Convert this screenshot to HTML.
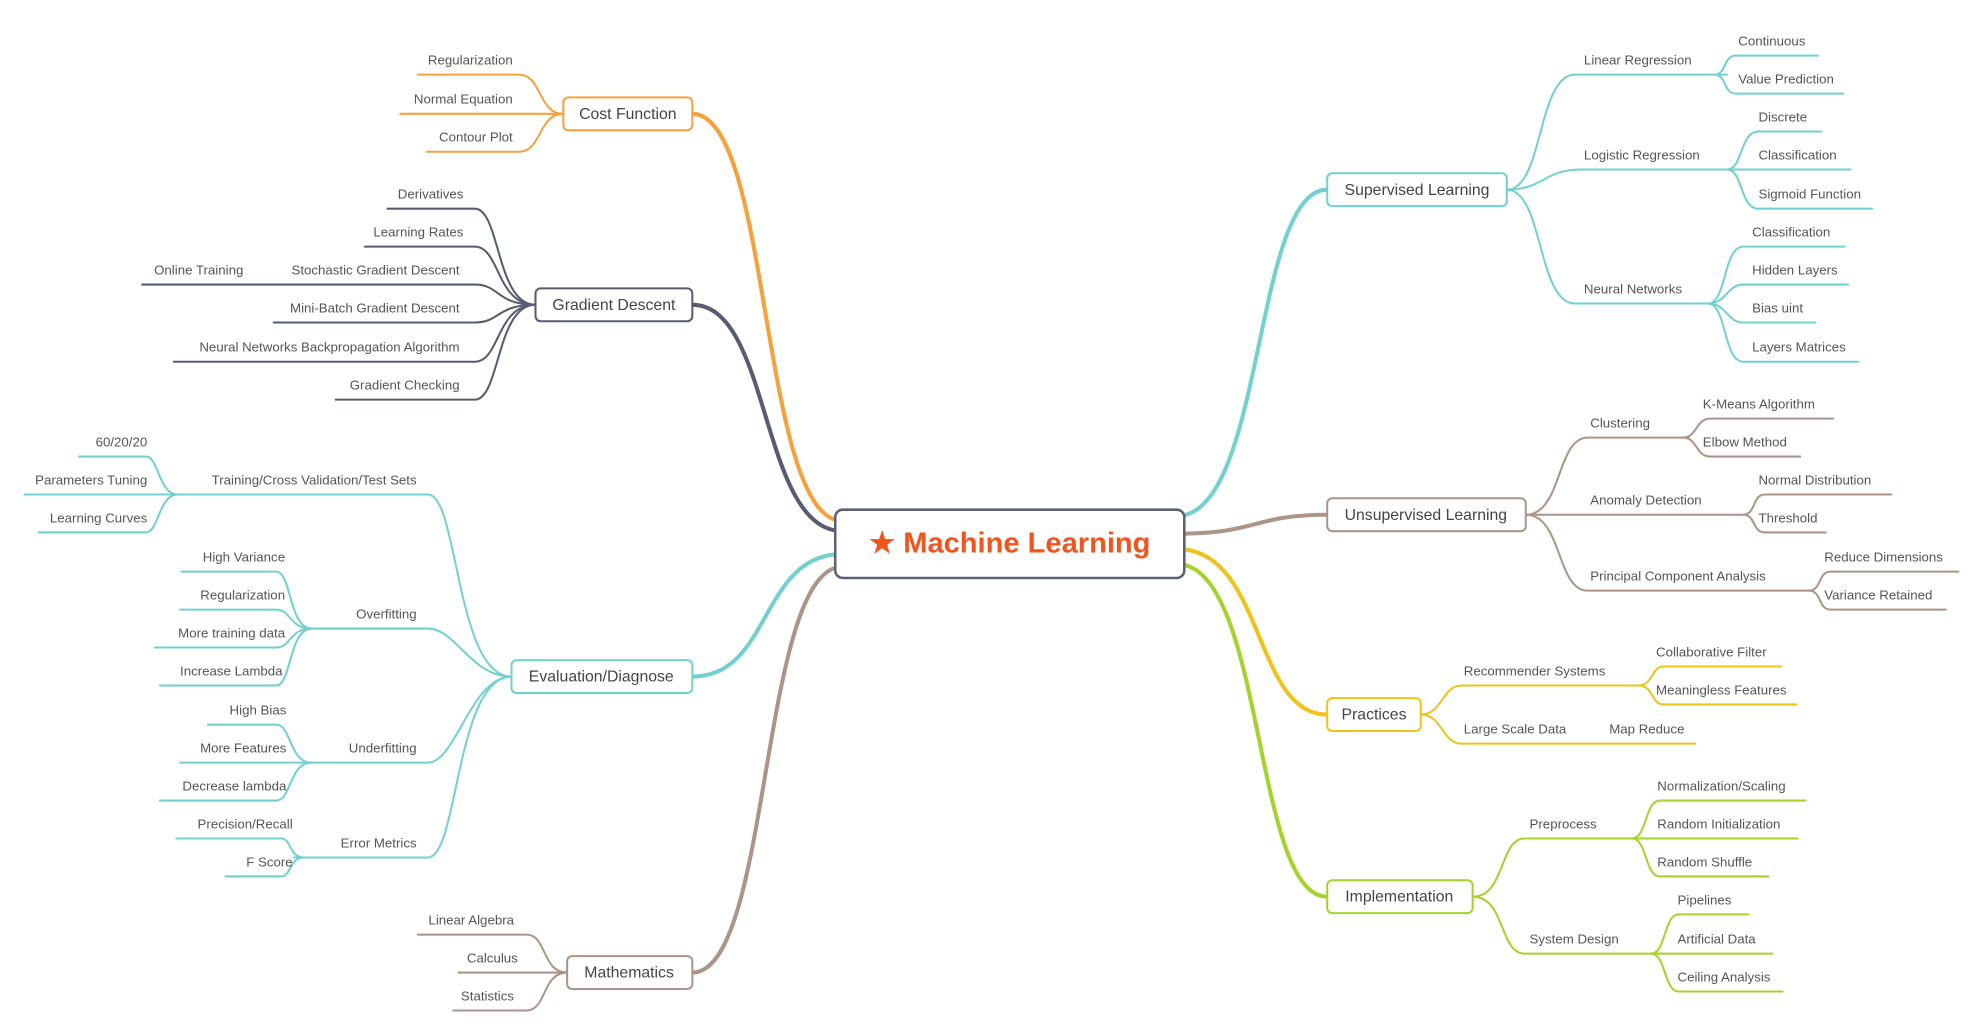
<!DOCTYPE html>
<html><head><meta charset="utf-8"><style>
html,body{margin:0;padding:0;background:#fff;}
svg{display:block;}
text{font-family:"Liberation Sans",sans-serif;fill:#555;font-size:10.5px;}
.n{font-size:12.5px;fill:#444;text-anchor:middle;}
.e{text-anchor:end;}
path{fill:none;stroke-width:1.6;stroke-linecap:round;}
.m{stroke-width:3.2;}
rect{fill:#fff;stroke-width:1.6;}
</style></head><body>
<svg width="1974" height="1032" viewBox="0 0 1560 816" xmlns="http://www.w3.org/2000/svg">
<!-- Supervised -->
<g stroke="#72d1cf">
<path class="m" d="M930,408 C1000,408 990,150 1049,150"/>
<path d="M1191,150 C1220,150 1215,59 1245,59 H1365"/>
<path d="M1191,150 C1220,150 1220,134 1250,134 H1365"/>
<path d="M1191,150 C1220,150 1215,240 1245,240 H1352"/>
<path d="M1355,59 C1365,59 1362,44 1372,44 H1437"/>
<path d="M1355,59 C1365,59 1362,74 1372,74 H1457"/>
<path d="M1365,134 C1378,134 1375,104 1390,104 H1440"/>
<path d="M1365,134 H1463"/>
<path d="M1365,134 C1378,134 1375,165 1390,165 H1480"/>
<path d="M1350,240 C1365,240 1362,195 1378,195 H1458"/>
<path d="M1350,240 C1365,240 1365,225 1378,225 H1461"/>
<path d="M1350,240 C1365,240 1365,255 1378,255 H1435"/>
<path d="M1350,240 C1365,240 1362,286 1378,286 H1469"/>
</g>
<!-- Unsupervised -->
<g stroke="#ad9488">
<path class="m" d="M930,422 C995,422 990,407 1049,407"/>
<path d="M1206,407 C1235,407 1230,346 1255,346 H1335"/>
<path d="M1206,407 H1378"/>
<path d="M1206,407 C1235,407 1230,467 1255,467 H1430"/>
<path d="M1330,346 C1342,346 1340,331 1352,331 H1449"/>
<path d="M1330,346 C1342,346 1340,361 1352,361 H1423"/>
<path d="M1378,407 C1388,407 1385,391 1395,391 H1495"/>
<path d="M1378,407 C1388,407 1385,421 1395,421 H1443"/>
<path d="M1430,467 C1440,467 1437,452 1447,452 H1548"/>
<path d="M1430,467 C1440,467 1437,482 1447,482 H1538"/>
</g>
<!-- Practices -->
<g stroke="#f0c31b">
<path class="m" d="M930,434 C1000,434 990,565 1049,565"/>
<path d="M1123,565 C1140,565 1140,542 1155,542 H1297"/>
<path d="M1123,565 C1140,565 1140,588 1155,588 H1340"/>
<path d="M1295,542 C1307,542 1305,527 1315,527 H1408"/>
<path d="M1295,542 C1307,542 1305,557 1315,557 H1420"/>
</g>
<!-- Implementation -->
<g stroke="#a6d22d">
<path class="m" d="M930,446 C1000,446 990,709 1049,709"/>
<path d="M1164,709 C1190,709 1185,663 1205,663 H1297"/>
<path d="M1164,709 C1190,709 1185,754 1205,754 H1312"/>
<path d="M1290,663 C1302,663 1300,633 1312,633 H1427"/>
<path d="M1290,663 H1421"/>
<path d="M1290,663 C1302,663 1300,693 1312,693 H1398"/>
<path d="M1305,754 C1317,754 1315,723 1327,723 H1382"/>
<path d="M1305,754 H1401"/>
<path d="M1305,754 C1317,754 1315,784 1327,784 H1409"/>
</g>
<!-- Cost -->
<g stroke="#f6a13c">
<path class="m" d="M666,412 C600,412 610,90 547,90"/>
<path d="M445,90 C425,90 428,59 410,59 H330"/>
<path d="M445,90 H316"/>
<path d="M445,90 C425,90 428,120 410,120 H337"/>
</g>
<!-- Gradient -->
<g stroke="#575c72">
<path class="m" d="M666,420 C600,420 610,241 547,241"/>
<path d="M423,241 C392,241 395,165 375,165 H306"/>
<path d="M423,241 C392,241 395,195 375,195 H288"/>
<path d="M423,241 C392,241 395,225 375,225 H112"/>
<path d="M423,241 C392,241 395,255 375,255 H216"/>
<path d="M423,241 C392,241 395,286 375,286 H137"/>
<path d="M423,241 C392,241 395,316 375,316 H265"/>
</g>
<!-- Evaluation -->
<g stroke="#72d1cf">
<path class="m" d="M666,438 C600,438 610,535 547,535"/>
<path d="M404,535 C360,535 362,391 338,391 H135"/>
<path d="M404,535 C372,535 360,497 338,497 H240"/>
<path d="M404,535 C372,535 360,603 338,603 H240"/>
<path d="M404,535 C360,535 362,678 338,678 H232"/>
<path d="M140,391 C125,391 125,361 115,361 H62"/>
<path d="M140,391 H19"/>
<path d="M140,391 C125,391 125,421 115,421 H30"/>
<path d="M246,497 C228,497 230,452 218,452 H143"/>
<path d="M246,497 C228,497 230,482 218,482 H142"/>
<path d="M246,497 C228,497 230,512 218,512 H122"/>
<path d="M246,497 C228,497 230,542 218,542 H126"/>
<path d="M246,603 C228,603 230,573 218,573 H164"/>
<path d="M246,603 H142"/>
<path d="M246,603 C228,603 230,633 218,633 H126"/>
<path d="M240,678 C228,678 230,663 222,663 H139"/>
<path d="M240,678 C228,678 230,693 222,693 H178"/>
</g>
<!-- Math -->
<g stroke="#ad9488">
<path class="m" d="M666,448 C600,448 610,769 547,769"/>
<path d="M448,769 C428,769 432,739 416,739 H330"/>
<path d="M448,769 H362"/>
<path d="M448,769 C428,769 432,799 416,799 H358"/>
</g>

<!-- Boxes -->
<rect x="660" y="403" width="276" height="54" rx="6" stroke="#5b6073" style="stroke-width:2"/>
<text x="798" y="437" style="font-size:23px;font-weight:bold;fill:#f2541f;text-anchor:middle">★ Machine Learning</text>

<rect x="1049" y="137" width="142" height="26" rx="4" stroke="#72d1cf"/><text class="n" x="1120" y="154">Supervised Learning</text>
<rect x="1049" y="394" width="157" height="26" rx="4" stroke="#ad9488"/><text class="n" x="1127" y="411">Unsupervised Learning</text>
<rect x="1049" y="552" width="74" height="26" rx="4" stroke="#f0c31b"/><text class="n" x="1086" y="569">Practices</text>
<rect x="1049" y="696" width="115" height="26" rx="4" stroke="#a6d22d"/><text class="n" x="1106" y="713">Implementation</text>
<rect x="445" y="77" width="102" height="26" rx="4" stroke="#f6a13c"/><text class="n" x="496" y="94">Cost Function</text>
<rect x="423" y="228" width="124" height="26" rx="4" stroke="#575c72"/><text class="n" x="485" y="245">Gradient Descent</text>
<rect x="404" y="522" width="143" height="26" rx="4" stroke="#72d1cf"/><text class="n" x="475" y="539">Evaluation/Diagnose</text>
<rect x="448" y="756" width="99" height="26" rx="4" stroke="#ad9488"/><text class="n" x="497" y="773">Mathematics</text>

<!-- Right labels -->
<text x="1252" y="51">Linear Regression</text>
<text x="1252" y="126">Logistic Regression</text>
<text x="1252" y="232">Neural Networks</text>
<text x="1374" y="36">Continuous</text>
<text x="1374" y="66">Value Prediction</text>
<text x="1390" y="96">Discrete</text>
<text x="1390" y="126">Classification</text>
<text x="1390" y="157">Sigmoid Function</text>
<text x="1385" y="187">Classification</text>
<text x="1385" y="217">Hidden Layers</text>
<text x="1385" y="247">Bias uint</text>
<text x="1385" y="278">Layers Matrices</text>
<text x="1257" y="338">Clustering</text>
<text x="1257" y="399">Anomaly Detection</text>
<text x="1257" y="459">Principal Component Analysis</text>
<text x="1346" y="323">K-Means Algorithm</text>
<text x="1346" y="353">Elbow Method</text>
<text x="1390" y="383">Normal Distribution</text>
<text x="1390" y="413">Threshold</text>
<text x="1442" y="444">Reduce Dimensions</text>
<text x="1442" y="474">Variance Retained</text>
<text x="1157" y="534">Recommender Systems</text>
<text x="1157" y="580">Large Scale Data</text>
<text x="1272" y="580">Map Reduce</text>
<text x="1309" y="519">Collaborative Filter</text>
<text x="1309" y="549">Meaningless Features</text>
<text x="1209" y="655">Preprocess</text>
<text x="1209" y="746">System Design</text>
<text x="1310" y="625">Normalization/Scaling</text>
<text x="1310" y="655">Random Initialization</text>
<text x="1310" y="685">Random Shuffle</text>
<text x="1326" y="715">Pipelines</text>
<text x="1326" y="746">Artificial Data</text>
<text x="1326" y="776">Ceiling Analysis</text>

<!-- Left labels -->
<text class="e" x="405" y="51">Regularization</text>
<text class="e" x="405" y="82">Normal Equation</text>
<text class="e" x="405" y="112">Contour Plot</text>
<text class="e" x="366" y="157">Derivatives</text>
<text class="e" x="366" y="187">Learning Rates</text>
<text class="e" x="363" y="217">Stochastic Gradient Descent</text>
<text class="e" x="192" y="217">Online Training</text>
<text class="e" x="363" y="247">Mini-Batch Gradient Descent</text>
<text class="e" x="363" y="278">Neural Networks Backpropagation Algorithm</text>
<text class="e" x="363" y="308">Gradient Checking</text>
<text class="e" x="329" y="383">Training/Cross Validation/Test Sets</text>
<text class="e" x="329" y="489">Overfitting</text>
<text class="e" x="329" y="595">Underfitting</text>
<text class="e" x="329" y="670">Error Metrics</text>
<text class="e" x="116" y="353">60/20/20</text>
<text class="e" x="116" y="383">Parameters Tuning</text>
<text class="e" x="116" y="413">Learning Curves</text>
<text class="e" x="225" y="444">High Variance</text>
<text class="e" x="225" y="474">Regularization</text>
<text class="e" x="225" y="504">More training data</text>
<text class="e" x="223" y="534">Increase Lambda</text>
<text class="e" x="226" y="565">High Bias</text>
<text class="e" x="226" y="595">More Features</text>
<text class="e" x="226" y="625">Decrease lambda</text>
<text class="e" x="231" y="655">Precision/Recall</text>
<text class="e" x="231" y="685">F Score</text>
<text class="e" x="406" y="731">Linear Algebra</text>
<text class="e" x="409" y="761">Calculus</text>
<text class="e" x="406" y="791">Statistics</text>
</svg>
</body></html>
